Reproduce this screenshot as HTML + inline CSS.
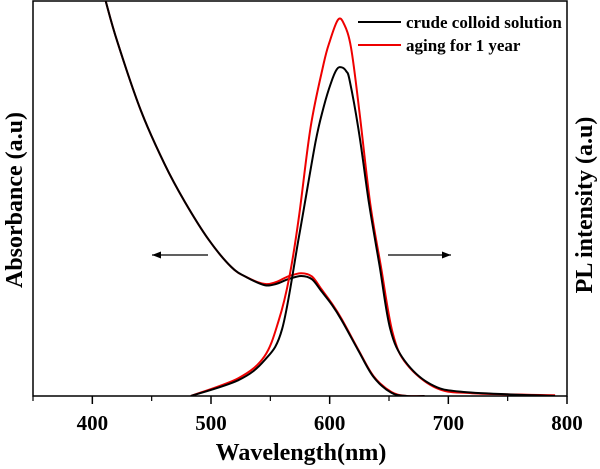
<!DOCTYPE html>
<html><head><meta charset="utf-8"><style>
body{margin:0;background:#fff;}
svg{display:block;font-family:"Liberation Serif",serif;font-weight:bold;}
</style></head><body>
<svg id="c" width="600" height="469"></svg>
<script>
const wlBlack = [483,523,545,560,574,588,595,601,606,610,614,617,625,633,642,651,663,685,713,790];
const plBlack = [0,4,9,17,40,64,73,79,82.5,83,82,79.5,66,49,33,17,9,3,1,0];
const wlRed = [483,523,545,557,566,574,584,595,600,607,612,618,625,634,643,653,665,690,720,790];
const plRed = [0,4.5,10,19,30,45,68,84,89.5,95,94,88,72,49,33,16,8,2,0.7,0.2];
const absWl = [405,411,421,441,461,478,498,517,530,545,555,565,576,585,593,602,610,624,637,652,665,680];
const absBlack = [107,100,89.5,72,58.5,49,39.5,32.6,30,28,28.3,29.5,30.3,29.5,26.5,23,19.2,11.6,4.8,0.8,0,0];
const absRed = [107,100,89.5,72,58.5,49,39.5,32.6,30,28.3,28.8,30.2,31,30.2,27,23.3,19.5,11.8,5,1,0,0];
const xTicks = [400,500,600,700,800];
const NS='http://www.w3.org/2000/svg';
const svg=document.getElementById('c');
const L=33,R=567,T=1,B=396;
const x=v=>L+(v-350)/(800-350)*(R-L);
const y=v=>B-v*3.96;
function el(t,a,p){const e=document.createElementNS(NS,t);for(const k in a)e.setAttribute(k,a[k]);(p||svg).appendChild(e);return e;}
const defs=el('defs',{});
const cp=el('clipPath',{id:'clip'},defs);
el('rect',{x:L,y:T,width:R-L,height:B-T},cp);
const frame=el('rect',{x:L,y:T,width:R-L,height:B-T,fill:'none',stroke:'#000','stroke-width':1.5});


xTicks.forEach(t=>{
  const l=el('line',{x1:x(t),x2:x(t),y1:B,y2:B+8,stroke:'#000','stroke-width':1.5});
  
  
  const m=el('line',{x1:x(t-50),x2:x(t-50),y1:B,y2:B+5,stroke:'#000','stroke-width':1.2});
  
  
  const tx=el('text',{x:x(t),y:B+34,'text-anchor':'middle','font-size':21});
  tx.textContent=t;
  
  
});
function line(xs,ys,color,name){
  const P=xs.map((w,i)=>[x(w),y(ys[i])]);
  let d='M'+P[0][0].toFixed(1)+','+P[0][1].toFixed(1);
  for(let i=0;i<P.length-1;i++){
    const p0=P[Math.max(i-1,0)],p1=P[i],p2=P[i+1],p3=P[Math.min(i+2,P.length-1)];
    const c1=[p1[0]+(p2[0]-p0[0])/6,p1[1]+(p2[1]-p0[1])/6];
    const c2=[p2[0]-(p3[0]-p1[0])/6,p2[1]-(p3[1]-p1[1])/6];
    d+=`C${c1[0].toFixed(1)},${c1[1].toFixed(1)} ${c2[0].toFixed(1)},${c2[1].toFixed(1)} ${p2[0].toFixed(1)},${p2[1].toFixed(1)}`;
  }
  const p=el('path',{d:d,fill:'none',stroke:color,'stroke-width':2,'stroke-linejoin':'round','clip-path':'url(#clip)'});
  
  
}
line(absWl,absRed,'#e00','absorbance-aged');
line(absWl,absBlack,'#000','absorbance-crude');
line(wlRed,plRed,'#e00','pl-aged');
line(wlBlack,plBlack,'#000','pl-crude');
function arrow(x1,x2,name){
  const g=el('g',{});
  
  
  el('line',{x1:x1,x2:x2,y1:255,y2:255,stroke:'#000','stroke-width':1.2},g);
  const dir=x2>x1?1:-1;
  el('path',{d:`M${x2},255 L${x2-dir*9},251.5 L${x2-dir*9},258.5Z`,fill:'#000'},g);
}
arrow(208,152,'left-arrow');
arrow(388,451,'right-arrow');
[['#000','crude colloid solution',22],['#e00','aging for 1 year',45]].forEach(([c,t,yy])=>{
  const l=el('line',{x1:358,x2:401,y1:yy,y2:yy,stroke:c,'stroke-width':2});
  
  
  const tx=el('text',{x:406,y:yy+6,'font-size':17});
  tx.textContent=t;
  
  
});
const xt=el('text',{x:301,y:460,'text-anchor':'middle','font-size':24});
xt.textContent='Wavelength(nm)';


const yl=el('text',{x:0,y:0,'text-anchor':'middle','font-size':24,transform:'translate(22,200) rotate(-90)'});
yl.textContent='Absorbance (a.u)';


const yr=el('text',{x:0,y:0,'text-anchor':'middle','font-size':24,transform:'translate(592,205) rotate(-90)'});
yr.textContent='PL  intensity  (a.u)';


</script>
</body></html>
